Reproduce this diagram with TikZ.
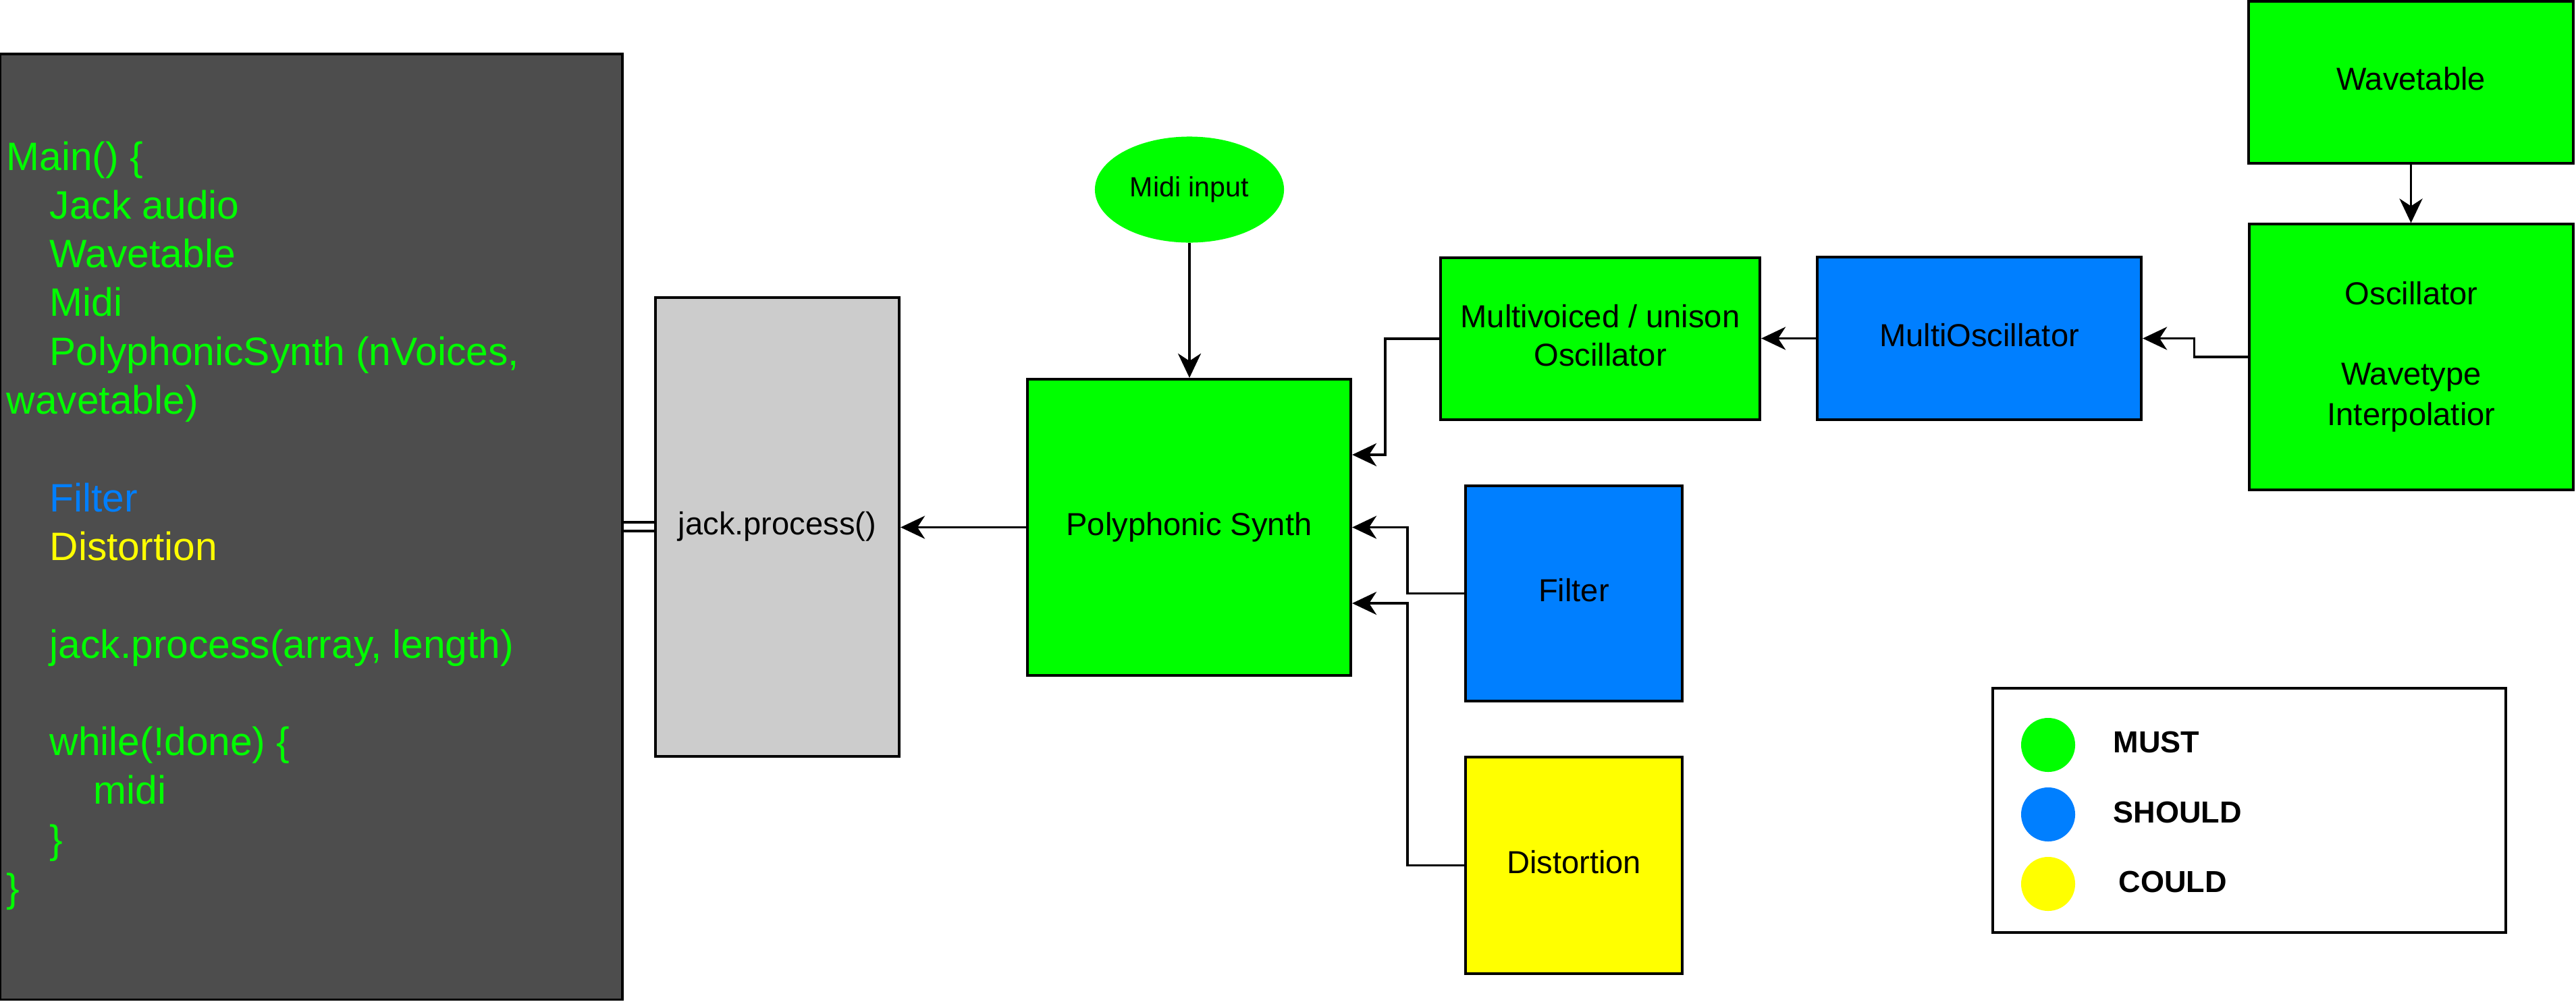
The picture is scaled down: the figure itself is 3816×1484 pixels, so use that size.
\documentclass[tikz,border=0pt]{standalone}
\usepackage{fontspec}
\setmainfont{Liberation Sans}
\usetikzlibrary{arrows.meta,shapes.geometric}
\definecolor{mgreen}{HTML}{00FF00}
\definecolor{mblue}{HTML}{007FFF}
\definecolor{myellow}{HTML}{FFFF00}
\definecolor{dgray}{HTML}{4D4D4D}
\definecolor{lgray}{HTML}{CCCCCC}
\begin{document}
\begin{tikzpicture}[x=0.01cm, y=-0.01cm,
  box/.style={draw=black, line width=1.1pt, rectangle, inner sep=0pt, align=center,
    text depth=2.9pt, font=\fontsize{13.4}{16.2}\selectfont},
  arr/.style={line width=1.1pt, -{Stealth[length=0.36cm, width=0.34cm, inset=0.11cm]}},
  dbl/.style={line width=1.1pt, double, double distance=0.09cm},
  codeline/.style={anchor=base west, inner sep=0pt, font=\fontsize{16.7}{20}\selectfont},
  legtext/.style={anchor=west, inner sep=0pt, font=\fontsize{12.8}{15}\selectfont\bfseries},
  legdot/.style={circle, minimum size=0.8cm, inner sep=0pt}]
\useasboundingbox (0,0) rectangle (3816,1484);

% main code box
\node[box, fill=dgray, minimum width=9.22cm, minimum height=14.01cm] (main) at (461,780.5) {};
\node[codeline, text=mgreen] (c0) at (9,252) {Main() \{};
\node[codeline, text=mgreen] (c1) at (73,324.3) {Jack audio};
\node[codeline, text=mgreen] (c2) at (73,396.6) {Wavetable};
\node[codeline, text=mgreen] (c3) at (73,468.9) {Midi};
\node[codeline, text=mgreen] (c4) at (73,541.2) {PolyphonicSynth (nVoices,};
\node[codeline, text=mgreen] (c5) at (9,613.5) {wavetable)};
\node[codeline, text=mblue] (c7) at (73,758.1) {Filter};
\node[codeline, text=myellow] (c8) at (73,830.4) {Distortion};
\node[codeline, text=mgreen] (c10) at (73,975) {jack.process(array, length)};
\node[codeline, text=mgreen] (c12) at (73,1119.6) {while(!done) \{};
\node[codeline, text=mgreen] (c13) at (138,1191.9) {midi};
\node[codeline, text=mgreen] (c14) at (73,1264.2) {\}};
\node[codeline, text=mgreen] (c15) at (9,1336.5) {\}};

% boxes
\node[box, fill=lgray, minimum width=3.61cm, minimum height=6.80cm] (jack) at (1151.5,781) {jack.process()};
\node[box, fill=mgreen, minimum width=4.79cm, minimum height=4.39cm] (ps) at (1761.5,781.5) {Polyphonic Synth};
\node[ellipse, fill=mgreen, minimum width=2.80cm, minimum height=1.57cm, inner sep=0pt,
  font=\fontsize{11.7}{14}\selectfont] (midi) at (1762,281) {Midi input};
\node[box, fill=mgreen, minimum width=4.73cm, minimum height=2.40cm] (mv) at (2370.5,502) {Multivoiced / unison\\Oscillator};
\node[box, fill=mblue, minimum width=4.80cm, minimum height=2.41cm] (mo) at (2932,501.5) {MultiOscillator};
\node[box, fill=mgreen, minimum width=4.81cm, minimum height=2.40cm] (wt) at (3571.5,122) {Wavetable};
\node[box, fill=mgreen, minimum width=4.79cm, minimum height=3.93cm,
  font=\fontsize{13.4}{17}\selectfont] (osc) at (3572,529) {Oscillator\\[17pt]Wavetype\\Interpolatior};
\node[box, fill=mblue, minimum width=3.21cm, minimum height=3.19cm] (filter) at (2331.5,879.5) {Filter};
\node[box, fill=myellow, minimum width=3.21cm, minimum height=3.21cm] (dist) at (2331.5,1282.5) {Distortion};

% legend
\node[box, fill=white, minimum width=7.60cm, minimum height=3.62cm] (legend) at (3332,1201) {};
\node[legdot, fill=mgreen] (dg) at (3034,1104) {};
\node[legdot, fill=mblue] (db) at (3034,1207) {};
\node[legdot, fill=myellow] (dy) at (3034,1310) {};
\node[legtext] (tm) at (3130,1100) {MUST};
\node[legtext] (ts) at (3130,1204) {SHOULD};
\node[legtext] (tc) at (3138,1307) {COULD};

% connectors
\draw[dbl] (main.east) -- (main.east -| jack.west);
\draw[arr] (ps.west) -- (ps.west -| jack.east);
\draw[arr] (midi.south) -- (midi.south |- ps.north);
\draw[arr] (mv.west) -- ++(-80,0) |- ([yshift=1.075cm]ps.east);
\draw[arr] (filter.west) -- ++(-84,0) |- (ps.east);
\draw[arr] (dist.west) -- ++(-84,0) |- ([yshift=-1.125cm]ps.east);
\draw[arr] (mo.west) -- (mo.west -| mv.east);
\draw[arr] (osc.west) -- ++(-80,0) |- (mo.east);
\draw[arr] (wt.south) -- (wt.south |- osc.north);
\end{tikzpicture}
\end{document}
